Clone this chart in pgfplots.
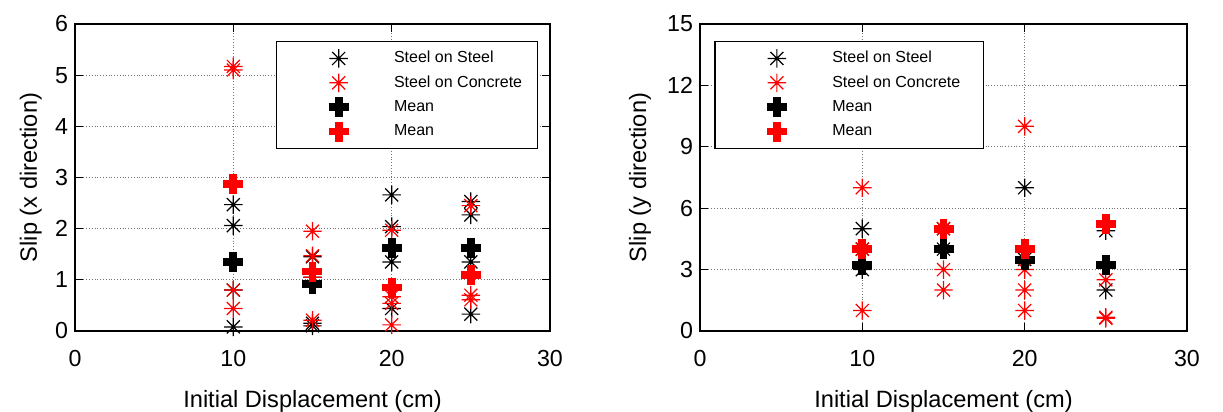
\documentclass[border=0pt]{standalone}
\usepackage{fontspec}
\setmainfont{Liberation Sans}
\usepackage{pgfplots}
\pgfplotsset{compat=1.18}
\newcommand\tickfont{\fontsize{11.6}{13}\selectfont}
\newcommand\labfont{\fontsize{11.8}{14}\selectfont}
\newcommand\legfont{\fontsize{8}{9}\selectfont}

\pgfdeclareplotmark{mast}{%
  \pgfpathmoveto{\pgfqpoint{0pt}{\pgfplotmarksize}}%
  \pgfpathlineto{\pgfqpoint{0pt}{-\pgfplotmarksize}}%
  \pgfpathmoveto{\pgfqpoint{\pgfplotmarksize}{0pt}}%
  \pgfpathlineto{\pgfqpoint{-\pgfplotmarksize}{0pt}}%
  \pgfpathmoveto{\pgfqpoint{0.707\pgfplotmarksize}{0.707\pgfplotmarksize}}%
  \pgfpathlineto{\pgfqpoint{-0.707\pgfplotmarksize}{-0.707\pgfplotmarksize}}%
  \pgfpathmoveto{\pgfqpoint{-0.707\pgfplotmarksize}{0.707\pgfplotmarksize}}%
  \pgfpathlineto{\pgfqpoint{0.707\pgfplotmarksize}{-0.707\pgfplotmarksize}}%
  \pgfusepathqstroke}

\pgfplotsset{
  mystyle/.style={
    scale only axis, height=153.5pt,
    xmin=0, xmax=30, xtick={0,10,20,30}, ymin=0,
    grid=major, grid style={densely dotted, line width=0.5pt, black!55},
    tick align=inside, major tick length=4pt, tick pos=both,
    axis line style={line width=0.75pt},
    every tick/.style={black, line width=0.5pt},
    /pgf/number format/assume math mode=true,
    xticklabel style={font=\tickfont, anchor=base, yshift=-18pt},
    yticklabel style={font=\tickfont},
    every axis x label/.style={at={([yshift=-38.5pt]axis description cs:0.5,0)}, anchor=base, font=\labfont},
    legend image code/.code={\path[draw=none,fill=none] (0pt,-6.1pt) (56pt,6.1pt); \draw[##1] plot coordinates {(31pt,0pt)};},
    legend style={anchor=north west, inner xsep=0pt, inner ysep=2.3pt, row sep=0pt,
      draw=black, line width=0.75pt, font=\legfont,
      nodes={inner ysep=0.5pt, inner xsep=2.7pt}},
    legend cell align=left,
  },
  ss/.style={only marks, mark=mast, mark size=4.6pt, color=black, mark options={line width=0.6pt}},
  sc/.style={only marks, mark=mast, mark size=4.6pt, color=red, mark options={line width=0.6pt}},
  mb/.style={only marks, mark=+, mark size=5pt, color=black, mark options={line width=3.85pt}},
  mr/.style={only marks, mark=+, mark size=5pt, color=red, mark options={line width=3.85pt}},
}

\begin{document}
\begin{tikzpicture}
\useasboundingbox (-37.5pt,-40.5pt) rectangle (574pt,165.5pt);
\begin{axis}[mystyle, width=237.5pt, ymax=6, ytick={0,1,2,3,4,5,6},
  ylabel={Slip (x direction)},
  every axis y label/.style={at={([xshift=-19pt]axis description cs:0,0.5)}, rotate=90, anchor=base, font=\labfont},
  xlabel={Initial Displacement (cm)},
  legend style={at={(0.423,0.945)}}]
\addplot[ss] coordinates {(10,2.47)(10,2.06)(10,0.80)(10,0.08)(15,1.45)(15,1.05)(15,0.15)(15,0.10)(20,2.66)(20,2.04)(20,1.35)(20,0.44)(25,2.53)(25,2.27)(25,1.35)(25,0.33)};
\addlegendentry{\makebox[69pt][l]{Steel on Steel}}
\addplot[sc] coordinates {(10,5.17)(10,5.10)(10,0.80)(10,0.44)(15,1.95)(15,1.47)(15,1.05)(15,0.21)(20,1.97)(20,0.67)(20,0.54)(20,0.12)(25,2.45)(25,0.70)(25,0.61)};
\addlegendentry{\makebox[69pt][l]{Steel on Concrete}}
\addplot[mb] coordinates {(10,1.35)(15,0.92)(20,1.62)(25,1.62)};
\addlegendentry{\makebox[69pt][l]{Mean}}
\addplot[mr] coordinates {(10,2.87)(15,1.16)(20,0.85)(25,1.09)};
\addlegendentry{\makebox[69pt][l]{Mean}}
\end{axis}
\begin{axis}[mystyle, xshift=312.5pt, width=243.5pt, ymax=15, ytick={0,3,6,9,12,15},
  ylabel={Slip (y direction)},
  every axis y label/.style={at={([xshift=-27pt]axis description cs:0,0.5)}, rotate=90, anchor=base, font=\labfont},
  xlabel={Initial Displacement (cm)},
  legend style={at={(0.029,0.945)}}]
\addplot[ss] coordinates {(10,5.0)(10,4.0)(10,3.0)(15,5.0)(15,4.0)(20,7.0)(20,3.5)(25,4.9)(25,2.0)};
\addlegendentry{\makebox[73pt][l]{Steel on Steel}}
\addplot[sc] coordinates {(10,7)(10,4)(10,1)(15,5)(15,3)(15,2)(20,10)(20,3)(20,2)(20,1)(25,2.5)(25,0.67)(25,0.62)};
\addlegendentry{\makebox[73pt][l]{Steel on Concrete}}
\addplot[mb] coordinates {(10,3.22)(15,4.0)(20,3.47)(25,3.22)};
\addlegendentry{\makebox[73pt][l]{Mean}}
\addplot[mr] coordinates {(10,4.0)(15,5.0)(20,4.0)(25,5.23)};
\addlegendentry{\makebox[73pt][l]{Mean}}
\end{axis}
\end{tikzpicture}
\end{document}
